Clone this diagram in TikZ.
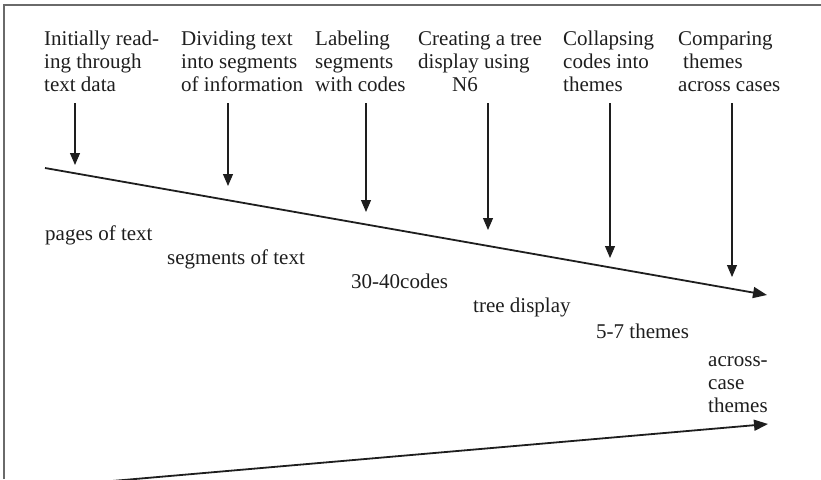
\documentclass[tikz,border=0pt]{standalone}
\usepackage{fontspec}
\setmainfont{Liberation Serif}
\usetikzlibrary{arrows.meta}

\definecolor{ink}{HTML}{1E1E1E}
\definecolor{rule}{HTML}{6A6A6A}

\newcommand{\steparrowtip}{Triangle[length=12pt,width=10pt]}

\begin{document}
\begin{tikzpicture}[x=1pt, y=-1pt,
        steplabel/.style = {anchor=base west, align=left, inner sep=0pt,
                            text=ink, font=\fontsize{21}{23}\selectfont},
        outlabel/.style  = {steplabel},
        steparrow/.style = {draw=ink, line width=1.1pt, -{\steparrowtip}},
        flowline/.style  = {draw=ink, line width=1.8pt,
                            -{Triangle[length=14pt,width=11pt]}}]
            \useasboundingbox (0,0) rectangle (821,479);

            % Frame of the figure (top and left edges only)
            \draw[rule, line width=1.2pt] (4,479) -- (4,5) -- (821,5);

            % The six analysis steps (placed by the baseline of their last line)
            \node[steplabel] (read)     at (44,91)  {Initially read-\\ing through\\text data};
            \node[steplabel] (divide)   at (181,91) {Dividing text\\into segments\\of information};
            \node[steplabel] (label)    at (315,91) {Labeling\\segments\\with codes};
            \node[steplabel] (tree)     at (418,91) {Creating a tree\\display using\\\hspace*{34pt}N6};
            \node[steplabel] (collapse) at (563,91) {Collapsing\\codes into\\themes};
            \node[steplabel] (compare)  at (678,91) {Comparing\\\hspace*{5pt}themes\\across cases};

            % Arrows pointing down onto the process line
            \foreach \name/\x/\tip in {read/75/165, divide/228/186, label/366/212,
                                       tree/488/230, collapse/610/258, compare/732/277} {
                \coordinate (\name-from) at (\x,103);
                \coordinate (\name-to)   at (\x,\tip);
                \draw[steparrow] (\name-from) -- (\name-to);
            }

            % Process line going down to the right
            \coordinate (flow-start) at (45,168);
            \coordinate (flow-end)   at (767,295);
            \draw[flowline] (flow-start) -- (flow-end);

            % What is left after each step
            \node[outlabel] (pages)     at (45,240)  {pages of text};
            \node[outlabel] (segments)  at (167,264) {segments of text};
            \node[outlabel] (codes)     at (351,288) {30-40codes};
            \node[outlabel] (display)   at (473,312) {tree display};
            \node[outlabel] (themes)    at (596,338) {5-7 themes};
            \node[outlabel] (crosscase) at (708,412) {across-\\case\\themes};

            % Second line rising to the right
            \coordinate (rise-start) at (112,481);
            \coordinate (rise-end)   at (768,424);
            \draw[flowline] (rise-start) -- (rise-end);
        \end{tikzpicture}
\end{document}
